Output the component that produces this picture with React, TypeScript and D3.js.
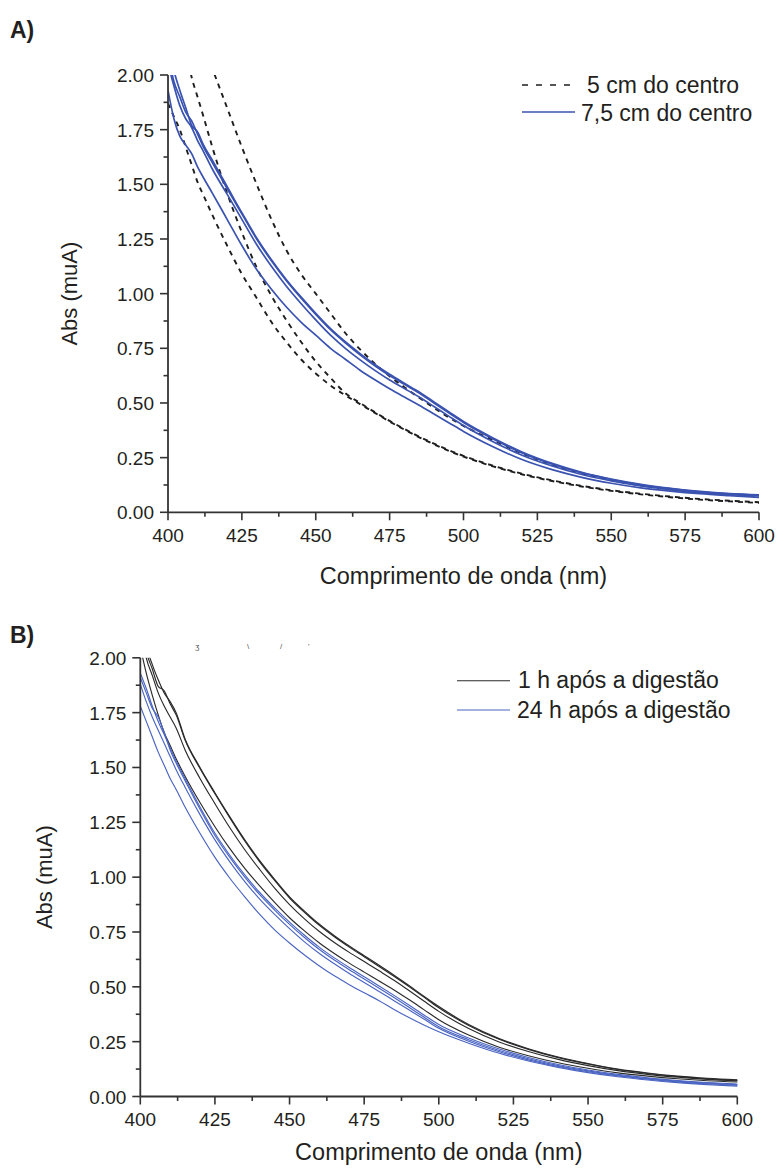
import React from "react";
import * as d3 from "d3";

// ---------- DATA ----------
const WAVELENGTHS = [400, 402, 404, 406, 408, 410, 412, 415, 420, 425, 430, 435, 440, 445, 450, 455, 460, 465, 470, 475, 480, 485, 490, 495, 500, 510, 520, 530, 540, 550, 560, 570, 580, 590, 600];

const X_TICKS = [400, 425, 450, 475, 500, 525, 550, 575, 600];
const Y_TICKS = [0, 0.25, 0.5, 0.75, 1.0, 1.25, 1.5, 1.75, 2.0];

// Panel A: 5 cm do centro (dashed black)
const A_5CM_1 = [1.87, 1.81, 1.75, 1.67, 1.59, 1.51, 1.45, 1.36, 1.22, 1.09, 0.98, 0.87, 0.78, 0.70, 0.635, 0.58, 0.535, 0.495, 0.455, 0.415, 0.378, 0.343, 0.311, 0.281, 0.255, 0.21, 0.173, 0.143, 0.118, 0.098, 0.082, 0.069, 0.058, 0.05, 0.043];
const A_5CM_2 = [2.5, 2.38, 2.25, 2.12, 1.99, 1.9, 1.81, 1.67, 1.46, 1.28, 1.12, 0.99, 0.88, 0.78, 0.69, 0.615, 0.545, 0.5, 0.458, 0.418, 0.381, 0.346, 0.314, 0.284, 0.258, 0.213, 0.176, 0.146, 0.121, 0.101, 0.085, 0.072, 0.061, 0.053, 0.046];
const A_5CM_3 = [2.75, 2.62, 2.5, 2.4, 2.3, 2.22, 2.14, 2.03, 1.85, 1.67, 1.5, 1.34, 1.2, 1.09, 1.0, 0.91, 0.82, 0.745, 0.68, 0.622, 0.572, 0.524, 0.478, 0.434, 0.395, 0.33, 0.268, 0.218, 0.178, 0.147, 0.123, 0.105, 0.092, 0.082, 0.074];

// Panel A: 7,5 cm do centro (blue)
const A_75CM_1 = [2.1, 1.97, 1.9, 1.83, 1.79, 1.73, 1.67, 1.6, 1.48, 1.365, 1.25, 1.15, 1.06, 0.98, 0.905, 0.835, 0.775, 0.72, 0.67, 0.625, 0.585, 0.545, 0.5, 0.455, 0.41, 0.335, 0.27, 0.22, 0.18, 0.15, 0.126, 0.108, 0.094, 0.084, 0.078];
const A_75CM_2 = [2.15, 2.02, 1.93, 1.85, 1.77, 1.74, 1.68, 1.61, 1.49, 1.37, 1.255, 1.155, 1.065, 0.985, 0.91, 0.84, 0.78, 0.726, 0.676, 0.631, 0.59, 0.55, 0.505, 0.46, 0.415, 0.34, 0.275, 0.224, 0.183, 0.152, 0.128, 0.11, 0.096, 0.086, 0.08];
const A_75CM_3 = [2.05, 1.95, 1.86, 1.8, 1.76, 1.7, 1.65, 1.57, 1.455, 1.34, 1.225, 1.125, 1.035, 0.955, 0.88, 0.81, 0.75, 0.697, 0.649, 0.605, 0.566, 0.527, 0.484, 0.44, 0.397, 0.323, 0.26, 0.212, 0.173, 0.144, 0.121, 0.104, 0.091, 0.081, 0.075];
const A_75CM_4 = [1.93, 1.8, 1.72, 1.68, 1.64, 1.58, 1.53, 1.46, 1.34, 1.22, 1.11, 1.02, 0.94, 0.87, 0.81, 0.75, 0.7, 0.65, 0.606, 0.565, 0.527, 0.49, 0.45, 0.41, 0.37, 0.3, 0.24, 0.195, 0.16, 0.133, 0.112, 0.097, 0.085, 0.076, 0.068];

// Panel B: 1 h após a digestão (black)
const B_1H_1 = [2.25, 2.06, 1.97, 1.9, 1.84, 1.8, 1.75, 1.63, 1.5, 1.385, 1.275, 1.17, 1.075, 0.99, 0.91, 0.845, 0.785, 0.733, 0.686, 0.642, 0.598, 0.553, 0.506, 0.457, 0.41, 0.328, 0.265, 0.218, 0.18, 0.15, 0.125, 0.107, 0.093, 0.083, 0.076];
const B_1H_2 = [2.2, 2.03, 1.95, 1.87, 1.85, 1.79, 1.74, 1.625, 1.495, 1.38, 1.27, 1.165, 1.07, 0.985, 0.905, 0.84, 0.78, 0.728, 0.681, 0.637, 0.593, 0.548, 0.501, 0.453, 0.405, 0.324, 0.262, 0.215, 0.177, 0.148, 0.123, 0.105, 0.091, 0.081, 0.074];
const B_1H_3 = [2.15, 2.0, 1.92, 1.84, 1.78, 1.73, 1.68, 1.58, 1.45, 1.335, 1.225, 1.125, 1.035, 0.95, 0.875, 0.81, 0.752, 0.702, 0.657, 0.615, 0.573, 0.53, 0.483, 0.435, 0.388, 0.31, 0.25, 0.205, 0.169, 0.141, 0.118, 0.101, 0.088, 0.078, 0.071];
const B_1H_4 = [2.05, 1.93, 1.83, 1.74, 1.66, 1.6, 1.54, 1.46, 1.34, 1.23, 1.13, 1.04, 0.96, 0.885, 0.815, 0.755, 0.7, 0.652, 0.608, 0.567, 0.527, 0.486, 0.442, 0.396, 0.35, 0.28, 0.226, 0.186, 0.154, 0.129, 0.108, 0.093, 0.081, 0.072, 0.066];

// Panel B: 24 h após a digestão (blue)
const B_24H_1 = [1.93, 1.86, 1.78, 1.71, 1.65, 1.59, 1.53, 1.45, 1.32, 1.2, 1.1, 1.01, 0.93, 0.86, 0.795, 0.735, 0.68, 0.632, 0.588, 0.546, 0.504, 0.461, 0.417, 0.372, 0.328, 0.267, 0.218, 0.178, 0.146, 0.121, 0.101, 0.085, 0.073, 0.064, 0.057];
const B_24H_2 = [1.91, 1.84, 1.77, 1.73, 1.66, 1.58, 1.52, 1.44, 1.31, 1.19, 1.09, 1.0, 0.92, 0.85, 0.785, 0.725, 0.67, 0.622, 0.578, 0.536, 0.494, 0.451, 0.407, 0.362, 0.318, 0.259, 0.211, 0.172, 0.141, 0.117, 0.097, 0.082, 0.07, 0.061, 0.054];
const B_24H_3 = [1.88, 1.8, 1.73, 1.67, 1.61, 1.55, 1.49, 1.41, 1.285, 1.17, 1.07, 0.98, 0.9, 0.83, 0.765, 0.705, 0.652, 0.605, 0.561, 0.52, 0.479, 0.437, 0.395, 0.353, 0.311, 0.252, 0.205, 0.167, 0.137, 0.113, 0.094, 0.079, 0.067, 0.058, 0.051];
const B_24H_4 = [1.78, 1.71, 1.64, 1.57, 1.51, 1.45, 1.4, 1.32, 1.2, 1.09, 0.995, 0.91, 0.83, 0.76, 0.7, 0.645, 0.595, 0.55, 0.51, 0.473, 0.437, 0.397, 0.36, 0.326, 0.295, 0.243, 0.198, 0.162, 0.133, 0.109, 0.09, 0.075, 0.063, 0.054, 0.047];

const ARTIFACT_MARKS = ["ʒ", "\\", "/", "'"];

// ---------- STYLE ----------
const TEXT = "#231f20";
const AXIS = "#333";
const FONT = "Liberation Sans, Arial, sans-serif";

type Series = { values: number[]; color: string; width: number; dash?: string };

interface PanelProps {
  id: string;
  label: string;
  x0: number; x1: number; yTop: number; yBottom: number;
  labelY: number;
  yTitleX: number;
  xTitleY: number;
  series: Series[];
  legend: { text: string; color: string; width: number; dash?: string; lx0: number; lx1: number; ly: number; tx: number; ty: number }[];
}

function Panel(p: PanelProps) {
  const x = d3.scaleLinear().domain([400, 600]).range([p.x0, p.x1]);
  const y = d3.scaleLinear().domain([0, 2]).range([p.yBottom, p.yTop]);
  const line = d3
    .line<number>()
    .x((_, i) => x(WAVELENGTHS[i]))
    .y((v) => y(v))
    .curve(d3.curveMonotoneX);
  const minorX = d3.range(400, 600.01, 12.5).filter((v) => !X_TICKS.includes(v));
  const minorY = d3.range(0, 2.001, 0.125).filter((v) => !Y_TICKS.some((t) => Math.abs(t - v) < 1e-6));
  const clipId = "clip-" + p.id;
  return (
    <g>
      <defs>
        <clipPath id={clipId}>
          <rect x={p.x0} y={p.yTop} width={p.x1 - p.x0 + 2} height={p.yBottom - p.yTop} />
        </clipPath>
      </defs>
      <text x={10} y={p.labelY} fontFamily={FONT} fontWeight="bold" fontSize={23} fill={TEXT}>
        {p.label}
      </text>
      <g clipPath={`url(#${clipId})`}>
        {p.series.map((s, i) => (
          <path
            key={i}
            d={line(s.values) || ""}
            fill="none"
            stroke={s.color}
            strokeWidth={s.width}
            strokeDasharray={s.dash}
          />
        ))}
      </g>
      {/* axes */}
      <line x1={p.x0} x2={p.x0} y1={p.yTop} y2={p.yBottom} stroke={AXIS} strokeWidth={1.8} />
      <line x1={p.x0} x2={p.x1} y1={p.yBottom} y2={p.yBottom} stroke={AXIS} strokeWidth={1.8} />
      {X_TICKS.map((t) => (
        <g key={"xt" + t}>
          <line x1={x(t)} x2={x(t)} y1={p.yBottom} y2={p.yBottom + 8} stroke={AXIS} strokeWidth={1.6} />
          <text x={x(t)} y={p.yBottom + 29.5} textAnchor="middle" fontFamily={FONT} fontSize={19} fill={TEXT}>
            {t}
          </text>
        </g>
      ))}
      {minorX.map((t) => (
        <line key={"xm" + t} x1={x(t)} x2={x(t)} y1={p.yBottom} y2={p.yBottom + 4.5} stroke={AXIS} strokeWidth={1.6} />
      ))}
      {Y_TICKS.map((t) => (
        <g key={"yt" + t}>
          <line x1={p.x0 - 8} x2={p.x0} y1={y(t)} y2={y(t)} stroke={AXIS} strokeWidth={1.6} />
          <text x={p.x0 - 14} y={y(t) + 7} textAnchor="end" fontFamily={FONT} fontSize={19} fill={TEXT}>
            {t.toFixed(2)}
          </text>
        </g>
      ))}
      {minorY.map((t) => (
        <line key={"ym" + t} x1={p.x0 - 4.5} x2={p.x0} y1={y(t)} y2={y(t)} stroke={AXIS} strokeWidth={1.6} />
      ))}
      <text
        transform={`translate(${p.yTitleX},${(p.yTop + p.yBottom) / 2}) rotate(-90)`}
        textAnchor="middle"
        fontFamily={FONT}
        fontSize={22}
        fill={TEXT}
      >
        Abs (muA)
      </text>
      <text x={(p.x0 + p.x1) / 2} y={p.xTitleY} textAnchor="middle" fontFamily={FONT} fontSize={23.5} fill={TEXT}>
        Comprimento de onda (nm)
      </text>
      {p.legend.map((l, i) => (
        <g key={"lg" + i}>
          <line x1={l.lx0} x2={l.lx1} y1={l.ly} y2={l.ly} stroke={l.color} strokeWidth={l.width} strokeDasharray={l.dash} />
          <text x={l.tx} y={l.ty} fontFamily={FONT} fontSize={23} fill={TEXT}>
            {l.text}
          </text>
        </g>
      ))}
    </g>
  );
}

export default function App() {
  const blueA = "#3a52b0";
  const blackA = "#1e1e1e";
  const blackB = "#2a2a2a";
  const blueB = "#4a64c2";
  const aSeries: Series[] = [
    { values: A_5CM_1, color: blackA, width: 1.9, dash: "5,5" },
    { values: A_5CM_2, color: blackA, width: 1.9, dash: "5,5" },
    { values: A_5CM_3, color: blackA, width: 1.9, dash: "5,5" },
    { values: A_75CM_1, color: blueA, width: 1.7 },
    { values: A_75CM_2, color: blueA, width: 1.7 },
    { values: A_75CM_3, color: blueA, width: 1.7 },
    { values: A_75CM_4, color: blueA, width: 1.7 },
  ];
  const bSeries: Series[] = [
    { values: B_1H_1, color: blackB, width: 1.15 },
    { values: B_1H_2, color: blackB, width: 1.15 },
    { values: B_1H_3, color: blackB, width: 1.15 },
    { values: B_1H_4, color: blackB, width: 1.15 },
    { values: B_24H_1, color: blueB, width: 1.15 },
    { values: B_24H_2, color: blueB, width: 1.15 },
    { values: B_24H_3, color: blueB, width: 1.15 },
    { values: B_24H_4, color: blueB, width: 1.15 },
  ];
  const artifactX = [195, 247, 280, 308];
  return (
    <svg width={777} height={1170} style={{ position: "absolute", left: 0, top: 0, background: "#fff" }}>
      <rect width={777} height={1170} fill="#fff" />
      <Panel
        id="a"
        label="A)"
        x0={168}
        x1={759}
        yTop={75}
        yBottom={512.3}
        labelY={38}
        yTitleX={77}
        xTitleY={584}
        series={aSeries}
        legend={[
          { text: "5 cm do centro", color: blackA, width: 1.6, dash: "6,8", lx0: 522, lx1: 574, ly: 85, tx: 587, ty: 93 },
          { text: "7,5 cm do centro", color: blueA, width: 1.6, lx0: 522, lx1: 575, ly: 112, tx: 581, ty: 121 },
        ]}
      />
      <Panel
        id="b"
        label="B)"
        x0={140.3}
        x1={737.3}
        yTop={657.8}
        yBottom={1096.5}
        labelY={643}
        yTitleX={52}
        xTitleY={1160}
        series={bSeries}
        legend={[
          { text: "1 h após a digestão", color: blackB, width: 1.1, lx0: 457, lx1: 510, ly: 680.7, tx: 518, ty: 688 },
          { text: "24 h após a digestão", color: blueB, width: 1.1, lx0: 457, lx1: 510, ly: 710, tx: 517, ty: 718 },
        ]}
      />
      {ARTIFACT_MARKS.map((m, i) => (
        <text key={"art" + i} x={artifactX[i]} y={649} fontFamily={FONT} fontSize={8} fill="#555">
          {m}
        </text>
      ))}
    </svg>
  );
}
